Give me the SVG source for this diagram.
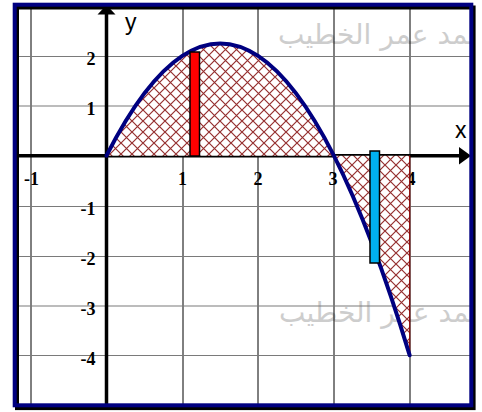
<svg xmlns="http://www.w3.org/2000/svg" width="482" height="412" viewBox="0 0 482 412">
  <defs>
    <pattern id="hatch" patternUnits="userSpaceOnUse" width="11" height="11">
      <rect width="11" height="11" fill="#ffffff"/>
      <path d="M-1,-1 L12,12 M-1,12 L12,-1" stroke="#952f2f" stroke-width="1.2"/>
    </pattern>
    <clipPath id="inner">
      <rect x="16.7" y="6.7" width="453.3" height="397.3"/>
    </clipPath>
    <style>
      .vgrid { stroke: #000000; stroke-width: 1; }
      .hgrid { stroke: #7a7a7a; stroke-width: 1.2; }
      .tick { font-family: "Liberation Serif", "Times New Roman", serif; font-weight: bold; font-size: 18px; fill: #000000; }
      .axlab { font-family: "Liberation Sans", Arial, sans-serif; font-size: 23px; fill: #000000; }
      .wm { font-family: "DejaVu Sans", "Noto Sans", sans-serif; font-size: 28px; fill: #cdcdcd; }
      .axis { stroke: #000000; stroke-width: 3.5; fill: none; }
      .region { fill: url(#hatch); stroke: none; }
      .curve { fill: none; stroke: #000080; stroke-width: 4; stroke-linecap: round; }
      .bar { stroke: #000000; stroke-width: 1.5; }
    </style>
  </defs>

  <rect width="482" height="412" fill="#ffffff"/>

  <g id="watermarks" clip-path="url(#inner)">
    <text class="wm" x="278" y="44">محمد عمر الخطيب</text>
    <text class="wm" x="279" y="322">محمد عمر الخطيب</text>
  </g>

  <g id="grid">
    <line class="vgrid" x1="31" y1="6" x2="31" y2="405"/>
    <line class="vgrid" x1="183" y1="6" x2="183" y2="405"/>
    <line class="vgrid" x1="258" y1="6" x2="258" y2="405"/>
    <line class="vgrid" x1="334" y1="6" x2="334" y2="405"/>
    <line class="vgrid" x1="410" y1="6" x2="410" y2="405"/>
    <line class="hgrid" x1="16" y1="56.5" x2="471" y2="56.5"/>
    <line class="hgrid" x1="16" y1="106" x2="471" y2="106"/>
    <line class="hgrid" x1="16" y1="206.5" x2="471" y2="206.5"/>
    <line class="hgrid" x1="16" y1="256.5" x2="471" y2="256.5"/>
    <line class="hgrid" x1="16" y1="306" x2="471" y2="306"/>
    <line class="hgrid" x1="16" y1="355.5" x2="471" y2="355.5"/>
  </g>

  <g id="tick-labels">
    <text class="tick" x="95.5" y="65" text-anchor="end">2</text>
    <text class="tick" x="95.5" y="115" text-anchor="end">1</text>
    <text class="tick" x="95.5" y="215" text-anchor="end">-1</text>
    <text class="tick" x="95.5" y="265" text-anchor="end">-2</text>
    <text class="tick" x="95.5" y="315" text-anchor="end">-3</text>
    <text class="tick" x="95.5" y="365" text-anchor="end">-4</text>
    <text class="tick" x="31.5" y="185" text-anchor="middle">-1</text>
    <text class="tick" x="182.5" y="185" text-anchor="middle">1</text>
    <text class="tick" x="258" y="185" text-anchor="middle">2</text>
    <text class="tick" x="333" y="185" text-anchor="middle">3</text>
    <text class="tick" x="411" y="185" text-anchor="middle">4</text>
  </g>

  <g id="axes">
    <line class="axis" x1="16" y1="155.7" x2="462" y2="155.7"/>
    <polygon points="471,155.7 459,147 459,164.4" fill="#000000"/>
    <line class="axis" x1="106.5" y1="405" x2="106.5" y2="12"/>
    <polygon points="106.5,5 97.5,14.5 115.5,14.5" fill="#000000"/>
    <text class="axlab" x="125" y="30">y</text>
    <text class="axlab" x="455" y="138">x</text>
  </g>

  <g id="regions">
    <path class="region" d="M106.5,155.7 Q220.2,-68.9 333.9,155.7 Z"/>
    <path class="region" d="M333.9,155.7 Q371.8,230.6 409.7,355.3 L409.7,155.7 Z"/>
    <line x1="409.7" y1="155.7" x2="409.7" y2="355.3" stroke="#8b0000" stroke-width="1.2"/>
  </g>

  <g id="curve">
    <path class="curve" d="M106.5,155.7 Q258.1,-143.7 409.7,355.3"/>
  </g>

  <g id="bars">
    <rect class="bar" x="190" y="52" width="9.5" height="104" fill="#ff0000"/>
    <rect class="bar" x="370" y="151" width="9.5" height="112" fill="#00b0f0"/>
  </g>

  <g id="frame">
    <rect x="17" y="7.5" width="456.6" height="400.6" fill="none" stroke="#000000" stroke-width="4"/>
    <rect x="14.7" y="4.7" width="456.6" height="400.6" fill="none" stroke="#000080" stroke-width="4"/>
  </g>
</svg>
